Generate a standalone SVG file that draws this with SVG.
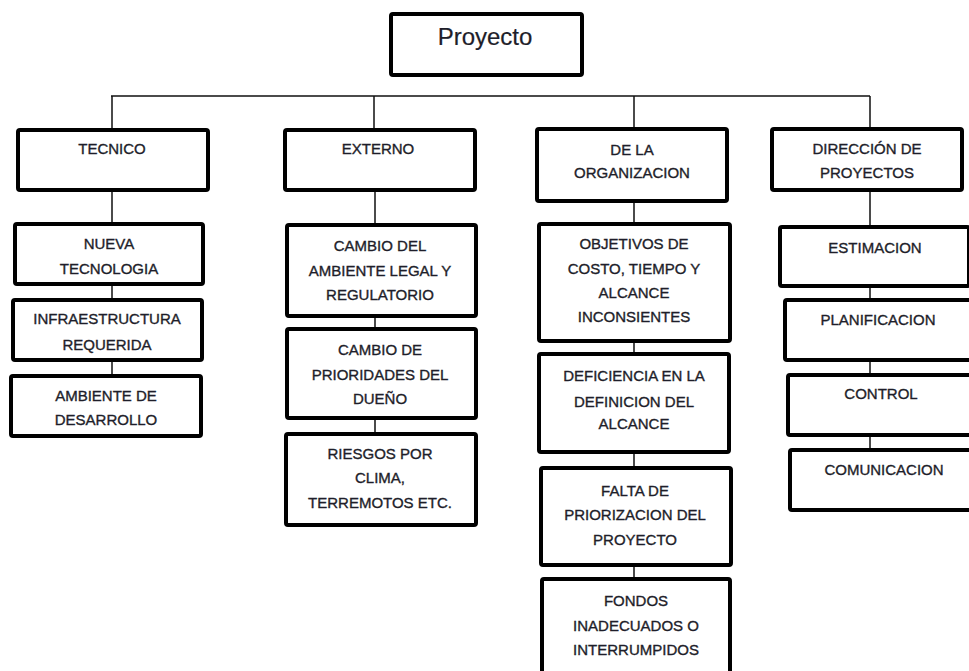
<svg xmlns="http://www.w3.org/2000/svg" width="969" height="671" viewBox="0 0 969 671">
<style>
.box{fill:#fff;stroke:#000;stroke-width:4}
.t{font-family:"Liberation Sans",Arial,sans-serif;font-size:15px;fill:#1e1e2a;stroke:#1e1e2a;stroke-width:0.35;text-anchor:middle}
.big{font-size:24px;stroke-width:0.2}
.c{stroke:#111;stroke-width:1.5;fill:none}
</style>
<rect width="969" height="671" fill="#fff"/>
<g id="connectors">
<path class="c" d="M111 96H870M112 96V128M374 96V128M634 96V127M870 96V127"/>
<path class="c" d="M112 192V222M112 286V298M112 362V374"/>
<path class="c" d="M375 192V223M375 318V327M375 420V432"/>
<path class="c" d="M634 203V222M634 343V352M634 454V466M634 567V577"/>
<path class="c" d="M870 192V225M870 288V298M870 362V373M870 437V448"/>
</g>
<g id="proyecto"><rect class="box" x="391" y="14" width="191" height="61" rx="2"/><text class="t big" x="485" y="45">Proyecto</text></g>
<g id="tecnico"><rect class="box" x="18" y="130" width="190" height="60" rx="2"/><text class="t" x="112" y="154">TECNICO</text></g>
<g id="nueva-tecnologia"><rect class="box" x="15" y="224" width="188" height="60" rx="2"/><text class="t" x="109" y="249">NUEVA</text><text class="t" x="109" y="274">TECNOLOGIA</text></g>
<g id="infraestructura"><rect class="box" x="13" y="300" width="189" height="60" rx="2"/><text class="t" x="107" y="324">INFRAESTRUCTURA</text><text class="t" x="107" y="350">REQUERIDA</text></g>
<g id="ambiente"><rect class="box" x="11" y="376" width="190" height="60" rx="2"/><text class="t" x="106" y="401">AMBIENTE DE</text><text class="t" x="106" y="425">DESARROLLO</text></g>
<g id="externo"><rect class="box" x="285" y="130" width="190" height="60" rx="2"/><text class="t" x="378" y="154">EXTERNO</text></g>
<g id="cambio-legal"><rect class="box" x="287" y="225" width="189" height="91" rx="2"/><text class="t" x="380" y="251">CAMBIO DEL</text><text class="t" x="380" y="276">AMBIENTE LEGAL Y</text><text class="t" x="380" y="300">REGULATORIO</text></g>
<g id="cambio-prioridades"><rect class="box" x="287" y="329" width="189" height="89" rx="2"/><text class="t" x="380" y="355">CAMBIO DE</text><text class="t" x="380" y="380">PRIORIDADES DEL</text><text class="t" x="380" y="404">DUEÑO</text></g>
<g id="riesgos"><rect class="box" x="286" y="434" width="190" height="91" rx="2"/><text class="t" x="380" y="459">RIESGOS POR</text><text class="t" x="380" y="483">CLIMA,</text><text class="t" x="380" y="508">TERREMOTOS ETC.</text></g>
<g id="organizacion"><rect class="box" x="537" y="129" width="190" height="72" rx="2"/><text class="t" x="632" y="155">DE LA</text><text class="t" x="632" y="178">ORGANIZACION</text></g>
<g id="objetivos"><rect class="box" x="539" y="224" width="191" height="117" rx="2"/><text class="t" x="634" y="249">OBJETIVOS DE</text><text class="t" x="634" y="274">COSTO, TIEMPO Y</text><text class="t" x="634" y="298">ALCANCE</text><text class="t" x="634" y="322">INCONSIENTES</text></g>
<g id="deficiencia"><rect class="box" x="539" y="354" width="190" height="98" rx="2"/><text class="t" x="634" y="381">DEFICIENCIA EN LA</text><text class="t" x="634" y="407">DEFINICION DEL</text><text class="t" x="634" y="429">ALCANCE</text></g>
<g id="falta"><rect class="box" x="541" y="468" width="190" height="97" rx="2"/><text class="t" x="635" y="496">FALTA DE</text><text class="t" x="635" y="520">PRIORIZACION DEL</text><text class="t" x="635" y="545">PROYECTO</text></g>
<g id="fondos"><rect class="box" x="542" y="579" width="188" height="120" rx="2"/><text class="t" x="636" y="606">FONDOS</text><text class="t" x="636" y="631">INADECUADOS O</text><text class="t" x="636" y="655">INTERRUMPIDOS</text></g>
<g id="direccion"><rect class="box" x="772" y="129" width="190" height="61" rx="2"/><text class="t" x="867" y="154">DIRECCIÓN DE</text><text class="t" x="867" y="178">PROYECTOS</text></g>
<g id="estimacion"><rect class="box" x="780" y="227" width="189" height="59" rx="2"/><text class="t" x="875" y="253">ESTIMACION</text></g>
<g id="planificacion"><rect class="box" x="785" y="300" width="200" height="60" rx="2"/><text class="t" x="878" y="325">PLANIFICACION</text></g>
<g id="control"><rect class="box" x="788" y="375" width="200" height="60" rx="2"/><text class="t" x="881" y="399">CONTROL</text></g>
<g id="comunicacion"><rect class="box" x="790" y="450" width="200" height="60" rx="2"/><text class="t" x="884" y="475">COMUNICACION</text></g>
</svg>
